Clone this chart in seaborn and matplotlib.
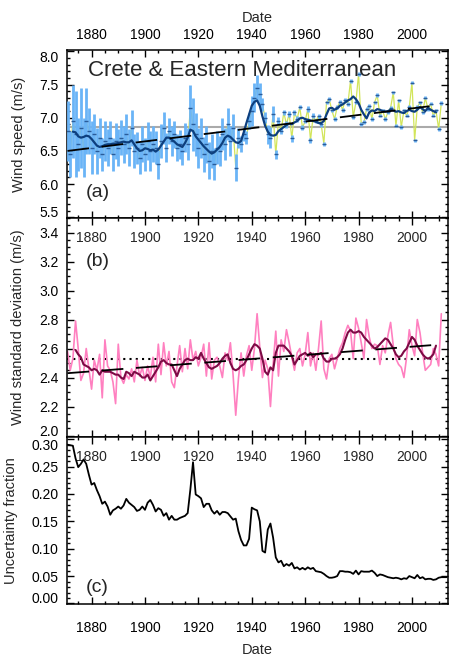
import numpy as np
import pandas as pd
import matplotlib
matplotlib.use("Agg")
import matplotlib.pyplot as plt
from matplotlib.ticker import MultipleLocator, FixedLocator
import seaborn as sns

# ---- panel (a): annual mean wind speed ----
years = list(range(1871, 2012))
wind_speed = [
    6.80, 6.45, 6.95, 6.75, 6.60, 6.85, 6.55, 6.95, 6.80, 6.55,
    6.75, 6.50, 6.70, 6.45, 6.65, 6.55, 6.70, 6.45, 6.65, 6.55,
    6.70, 6.60, 6.75, 6.55, 6.85, 6.50, 6.55, 6.40, 6.60, 6.45,
    6.65, 6.50, 6.60, 6.55, 6.30, 6.65, 6.85, 6.55, 6.80, 6.65,
    6.75, 6.55, 6.60, 6.50, 6.70, 6.60, 7.15, 6.90, 6.75, 6.55,
    6.70, 6.45, 6.60, 6.35, 6.50, 6.30, 6.55, 6.50, 6.75, 6.60,
    6.90, 6.65, 6.85, 6.25, 6.70, 6.60, 6.75, 6.70, 6.95, 7.10,
    7.30, 7.45, 7.35, 7.20, 7.00, 6.75, 6.70, 7.05, 6.45, 6.95,
    6.80, 7.08, 6.90, 7.06, 6.69, 7.08, 6.98, 7.16, 6.85, 6.95,
    7.13, 6.66, 7.03, 6.95, 7.02, 6.90, 6.61, 7.23, 7.28, 7.11,
    6.98, 7.16, 7.23, 7.12, 7.27, 7.21, 7.56, 7.01, 7.23, 7.66,
    6.91, 6.93, 7.13, 7.18, 6.98, 7.23, 7.34, 7.03, 7.11, 6.98,
    7.08, 7.15, 7.38, 6.88, 7.26, 6.86, 7.11, 7.03, 7.16, 7.53,
    6.66, 7.16, 7.23, 7.08, 7.30, 7.13, 7.21, 7.03, 7.11, 6.83,
    7.22,
]
speed_err = [
    0.45, 0.35, 0.55, 0.65, 0.40, 0.60, 0.45, 0.50, 0.35, 0.40,
    0.30, 0.35, 0.30, 0.25, 0.30, 0.28, 0.25, 0.25, 0.27, 0.28,
    0.26, 0.28, 0.30, 0.28, 0.27, 0.25, 0.24, 0.25, 0.27, 0.25,
    0.28, 0.30, 0.27, 0.25, 0.22, 0.25, 0.24, 0.22, 0.20, 0.22,
    0.20, 0.20, 0.22, 0.21, 0.22, 0.24, 0.35, 0.40, 0.32, 0.30,
    0.30, 0.26, 0.28, 0.28, 0.25, 0.24, 0.25, 0.23, 0.24, 0.24,
    0.24, 0.22, 0.20, 0.20, 0.15, 0.12, 0.10, 0.10, 0.12, 0.22,
    0.22, 0.20, 0.18, 0.10, 0.08, 0.14, 0.16, 0.12, 0.07, 0.06,
    0.05, 0.04, 0.05, 0.045, 0.05, 0.04, 0.04, 0.035, 0.04, 0.035,
    0.04, 0.035, 0.04, 0.035, 0.035, 0.035, 0.03, 0.025, 0.025, 0.025,
    0.025, 0.03, 0.03, 0.03, 0.03, 0.03, 0.03, 0.03, 0.03, 0.03,
    0.03, 0.03, 0.03, 0.03, 0.03, 0.025, 0.025, 0.025, 0.025, 0.025,
    0.025, 0.025, 0.025, 0.025, 0.025, 0.025, 0.025, 0.025, 0.025, 0.025,
    0.025, 0.025, 0.025, 0.025, 0.025, 0.025, 0.025, 0.025, 0.025, 0.025,
    0.025,
]
smooth_years = list(range(1873, 2010))
speed_smooth = [
    6.79, 6.78, 6.72, 6.70, 6.71, 6.73, 6.72, 6.68,
    6.63, 6.58, 6.56, 6.57, 6.59, 6.60, 6.60, 6.61, 6.61, 6.62,
    6.63, 6.64, 6.63, 6.63, 6.66, 6.60, 6.54, 6.50, 6.51, 6.54,
    6.53, 6.51, 6.52, 6.49, 6.52, 6.58, 6.64, 6.70, 6.70, 6.67,
    6.64, 6.60, 6.58, 6.56, 6.62, 6.70, 6.82, 6.80, 6.72, 6.67,
    6.62, 6.57, 6.53, 6.49, 6.46, 6.48, 6.52, 6.56, 6.62, 6.70,
    6.73, 6.71, 6.67, 6.63, 6.62, 6.65, 6.78, 6.92, 7.05, 7.18,
    7.24, 7.26, 7.18, 7.02, 6.88, 6.79, 6.74, 6.73, 6.74, 6.80,
    6.83, 6.86, 6.89, 6.91, 6.90, 6.93, 6.95, 6.99, 7.00, 6.98,
    6.97, 6.96, 6.95, 6.94, 6.92, 6.92, 6.95, 7.05, 7.14, 7.15,
    7.12, 7.14, 7.18, 7.20, 7.23, 7.26, 7.28, 7.32, 7.28, 7.22,
    7.12, 7.05, 6.99, 7.08, 7.11, 7.10, 7.13, 7.12, 7.10, 7.09,
    7.10, 7.12, 7.11, 7.09, 7.10, 7.08, 7.07, 7.10, 7.12, 7.10,
    7.09, 7.12, 7.16, 7.13, 7.10, 7.15, 7.12, 7.10, 7.08,
]
trend_years = [1871, 2010]
speed_trend = [6.50, 7.19]
speed_mean = 6.86

# ---- panel (b): wind standard deviation ----
wind_std = [
    2.58, 2.45, 2.53, 2.79, 2.60, 2.38, 2.43, 2.60, 2.46, 2.32,
    2.52, 2.45, 2.56, 2.26, 2.66, 2.48, 2.45, 2.37, 2.22, 2.63,
    2.40, 2.36, 2.42, 2.39, 2.46, 2.37, 2.52, 2.41, 2.47, 2.38,
    2.48, 2.40, 2.54, 2.37, 2.63, 2.42, 2.64, 2.48, 2.58, 2.37,
    2.33, 2.48, 2.62, 2.44, 2.60, 2.46, 2.66, 2.52, 2.58, 2.48,
    2.54, 2.63, 2.41, 2.64, 2.39, 2.52, 2.54, 2.48, 2.40, 2.57,
    2.52, 2.64, 2.42, 2.14, 2.39, 2.57, 2.41, 2.55, 2.62, 2.45,
    2.60, 2.84, 2.61, 2.40, 2.52, 2.46, 2.20, 2.49, 2.72, 2.41,
    2.66, 2.58, 2.73, 2.64, 2.54, 2.45, 2.57, 2.60, 2.48, 2.56,
    2.71, 2.48, 2.57, 2.45, 2.60, 2.79, 2.46, 2.39, 2.53, 2.56,
    2.46, 2.53, 2.60, 2.64, 2.71, 2.76, 2.72, 2.53, 2.81, 2.74,
    2.64, 2.53, 2.80, 2.68, 2.60, 2.63, 2.62, 2.49, 2.62, 2.57,
    2.69, 2.78, 2.62, 2.53, 2.49, 2.47, 2.40, 2.54, 2.73, 2.62,
    2.55, 2.80, 2.71, 2.57, 2.45, 2.47, 2.49, 2.60, 2.56, 2.48,
    2.84,
]
std_smooth_years = list(range(1874, 2010))
std_smooth = [
    2.59, 2.56, 2.54, 2.49, 2.48, 2.47, 2.45,
    2.46, 2.45, 2.42, 2.45, 2.44, 2.44, 2.44, 2.43, 2.42, 2.42,
    2.40, 2.39, 2.44, 2.43, 2.41, 2.44, 2.43, 2.42, 2.40, 2.40,
    2.42, 2.38, 2.41, 2.44, 2.47, 2.51, 2.52, 2.50, 2.49, 2.49,
    2.45, 2.41, 2.46, 2.49, 2.52, 2.53, 2.52, 2.52, 2.54, 2.53,
    2.57, 2.53, 2.50, 2.47, 2.46, 2.47, 2.48, 2.50, 2.53, 2.55,
    2.56, 2.50, 2.46, 2.45, 2.46, 2.48, 2.49, 2.52, 2.56, 2.60,
    2.63, 2.62, 2.60, 2.53, 2.44, 2.42, 2.47, 2.45, 2.57, 2.62,
    2.62, 2.62, 2.60, 2.58, 2.55, 2.49, 2.52, 2.55, 2.56, 2.57,
    2.55, 2.57, 2.54, 2.56, 2.56, 2.57, 2.53, 2.51, 2.51, 2.53,
    2.53, 2.54, 2.56, 2.60, 2.66, 2.71, 2.73, 2.71, 2.71, 2.72,
    2.71, 2.68, 2.66, 2.64, 2.62, 2.60, 2.61, 2.63, 2.65, 2.67,
    2.66, 2.63, 2.60, 2.56, 2.54, 2.55, 2.58, 2.60, 2.64, 2.68,
    2.66, 2.62, 2.59, 2.56, 2.54, 2.53, 2.54, 2.56, 2.62,
]
std_trend = [2.43, 2.627]
std_mean = 2.53

# ---- panel (c): uncertainty fraction ----
frac_years = list(range(1871, 2014))
uncert_frac = [
    0.290, 0.289, 0.288, 0.265, 0.249, 0.255, 0.263, 0.255, 0.235, 0.217,
    0.220, 0.207, 0.196, 0.182, 0.186, 0.177, 0.162, 0.170, 0.173, 0.177,
    0.173, 0.179, 0.191, 0.184, 0.180, 0.176, 0.169, 0.171, 0.177, 0.171,
    0.184, 0.189, 0.180, 0.168, 0.174, 0.171, 0.160, 0.165, 0.153, 0.160,
    0.153, 0.153, 0.156, 0.158, 0.160, 0.165, 0.208, 0.258, 0.199, 0.196,
    0.192, 0.176, 0.182, 0.182, 0.170, 0.164, 0.169, 0.162, 0.167, 0.167,
    0.165, 0.159, 0.153, 0.155, 0.132, 0.116, 0.106, 0.106, 0.118, 0.175,
    0.172, 0.170, 0.150, 0.096, 0.093, 0.135, 0.146, 0.120, 0.084, 0.075,
    0.078, 0.068, 0.072, 0.069, 0.074, 0.064, 0.066, 0.062, 0.065, 0.062,
    0.066, 0.063, 0.065, 0.059, 0.058, 0.057, 0.054, 0.050, 0.047, 0.047,
    0.048, 0.050, 0.059, 0.059, 0.058, 0.058, 0.057, 0.054, 0.060, 0.053,
    0.059, 0.058, 0.058, 0.058, 0.060, 0.056, 0.050, 0.053, 0.052, 0.050,
    0.048, 0.047, 0.046, 0.047, 0.046, 0.044, 0.046, 0.045, 0.050, 0.048,
    0.046, 0.052, 0.046, 0.048, 0.044, 0.045, 0.045, 0.043, 0.044, 0.047,
    0.048, 0.048, 0.048,
]
decade_ticks = [1880, 1900, 1920, 1940, 1960, 1980, 2000]

sns.set_style("ticks")
plt.rcParams["font.family"] = ["Liberation Sans", "DejaVu Sans"]
plt.rcParams["axes.linewidth"] = 1.1

fig = plt.figure(figsize=(4.58, 6.58), dpi=100)
W, H = 458.0, 658.0
left, right = 67 / W, 448 / W


def box(top, bottom):
    return [left, 1 - bottom / H, right - left, (bottom - top) / H]


ax_a = fig.add_axes(box(50, 218))
ax_b = fig.add_axes(box(218, 437))
ax_c = fig.add_axes(box(437, 604))


def style_axis(ax, ylim, ymaj, ymin):
    ax.set_xlim(1870.8, 2013.5)
    ax.set_ylim(*ylim)
    ax.xaxis.set_major_locator(FixedLocator(decade_ticks))
    ax.xaxis.set_minor_locator(MultipleLocator(5))
    ax.yaxis.set_major_locator(MultipleLocator(ymaj))
    ax.yaxis.set_minor_locator(MultipleLocator(ymin))
    ax.tick_params(which="both", direction="in", top=True, right=True,
                   width=1, labelsize=10, colors="black")
    ax.tick_params(which="major", length=5)
    ax.tick_params(which="minor", length=2.5)
    ax.tick_params(axis="y", pad=6)
    for s in ax.spines.values():
        s.set_visible(True)
        s.set_linewidth(1.1)
        s.set_color("black")
    ax.set_xlabel("")
    ax.set_ylabel("")


def inside_top_labels(ax):
    sec = ax.secondary_xaxis("top")
    sec.xaxis.set_major_locator(FixedLocator(decade_ticks))
    sec.tick_params(axis="x", length=0, pad=-19.5, labelsize=10)
    sec.spines["top"].set_visible(False)


def nudge_edge_labels(ax, top_val=None, bottom_val=None):
    # IDL-style: keep the end labels inside the panel height
    for tick in ax.yaxis.get_major_ticks():
        loc = tick.get_loc()
        if top_val is not None and abs(loc - top_val) < 1e-6:
            tick.label1.set_verticalalignment("top")
        if bottom_val is not None and abs(loc - bottom_val) < 1e-6:
            tick.label1.set_verticalalignment("baseline")


# panel (a)
ax_a.axhline(speed_mean, color="#aaaaaa", lw=1.5, zorder=1)
sns.lineplot(x=years, y=wind_speed, ax=ax_a, color="#d2e55a", lw=0.9, zorder=2)
ax_a.errorbar(years, wind_speed, yerr=speed_err, fmt="none", ecolor="#6ab4f7",
              elinewidth=2.0, capsize=0, zorder=3)
ax_a.plot(years, wind_speed, ls="none", marker="_", ms=3, mew=1,
          color="#2a5c9a", zorder=4)
sns.lineplot(x=smooth_years, y=speed_smooth, ax=ax_a, color="#0d3f7e", lw=1.6, zorder=5)
sns.lineplot(x=trend_years, y=speed_trend, ax=ax_a, color="black", lw=1.3,
             linestyle=(0, (12, 7)), zorder=6)
style_axis(ax_a, (5.49, 8.02), 0.5, 0.1)
ax_a.tick_params(axis="x", labeltop=True, labelbottom=False, pad=6)
ax_a.xaxis.set_label_position("top")
ax_a.set_xlabel("Date", fontsize=10.5, labelpad=4)
ax_a.set_ylabel("Wind speed (m/s)", fontsize=10.5, labelpad=10)
ax_a.text(0.055, 0.88, "Crete & Eastern Mediterranean", transform=ax_a.transAxes,
          fontsize=16, ha="left", va="center")
ax_a.text(0.05, 0.149, "(a)", transform=ax_a.transAxes, fontsize=14,
          ha="left", va="center")

# panel (b)
ax_b.axhline(std_mean, color="black", lw=1.5, linestyle=(0, (1, 2)), zorder=1)
sns.lineplot(x=years, y=wind_std, ax=ax_b, color="#ff80c0", lw=1.2, zorder=2)
sns.lineplot(x=std_smooth_years, y=std_smooth, ax=ax_b, color="#7d0a45", lw=1.5, zorder=3)
sns.lineplot(x=trend_years, y=std_trend, ax=ax_b, color="black", lw=1.3,
             linestyle=(0, (12, 7)), zorder=4)
style_axis(ax_b, (1.99, 3.5), 0.2, 0.05)
ax_b.tick_params(axis="x", labelbottom=False, labeltop=False)
inside_top_labels(ax_b)
ax_b.set_ylabel("Wind standard deviation (m/s)", fontsize=10.5, labelpad=10)
ax_b.text(0.05, 0.80, "(b)", transform=ax_b.transAxes, fontsize=14,
          ha="left", va="center")

# panel (c)
sns.lineplot(x=frac_years, y=uncert_frac, ax=ax_c, color="black", lw=1.3)
style_axis(ax_c, (-0.001, 0.304), 0.05, 0.01)
ax_c.tick_params(axis="x", labelbottom=True, labeltop=False, pad=12)
inside_top_labels(ax_c)
ax_c.set_xlabel("Date", fontsize=10.5, labelpad=6)
ax_c.set_ylabel("Uncertainty fraction", fontsize=10.5, labelpad=10)
ax_c.text(0.05, 0.096, "(c)", transform=ax_c.transAxes, fontsize=14,
          ha="left", va="center")

fig.canvas.draw()
nudge_edge_labels(ax_a, top_val=8.0, bottom_val=5.5)
nudge_edge_labels(ax_b, bottom_val=2.0)
nudge_edge_labels(ax_c, top_val=0.30, bottom_val=0.0)

fig.savefig("out.png", dpi=100)
